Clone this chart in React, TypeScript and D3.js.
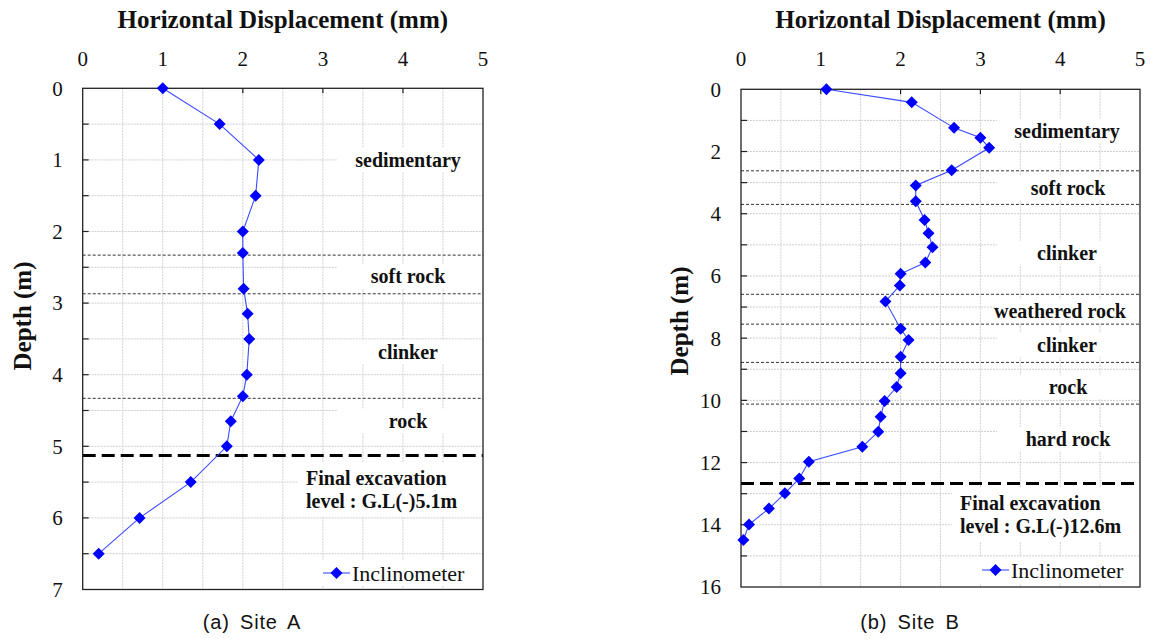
import React from "react";
import * as d3 from "d3";

// ---------- Data ----------
const xTicks = [0, 1, 2, 3, 4, 5];

const depthA = [0, 0.5, 1, 1.5, 2, 2.3, 2.8, 3.15, 3.5, 4, 4.3, 4.65, 5, 5.5, 6, 6.5];
const dispA = [1.0, 1.71, 2.2, 2.16, 2.0, 2.0, 2.01, 2.06, 2.08, 2.05, 2.0, 1.85, 1.8, 1.35, 0.71, 0.2];
const layerBoundsA = [2.33, 2.87, 4.33];
const excavationA = 5.13;
const layerNamesA = ["sedimentary", "soft rock", "clinker", "rock"];
const layerNameDepthsA = [1.0, 2.62, 3.68, 4.65];
const excavationTextA = ["Final excavation", "level : G.L(-)5.1m"];

const depthB = [0, 0.42, 1.24, 1.56, 1.88, 2.6, 3.09, 3.6, 4.2, 4.63, 5.08, 5.57, 5.93, 6.31, 6.82, 7.7, 8.06, 8.6, 9.13, 9.57, 10.02, 10.53, 11.01, 11.49, 11.97, 12.51, 12.99, 13.48, 13.99, 14.49];
const dispB = [1.07, 2.14, 2.67, 3.0, 3.11, 2.64, 2.19, 2.19, 2.3, 2.35, 2.4, 2.31, 2.0, 1.99, 1.81, 2.0, 2.1, 2.0, 2.0, 1.95, 1.8, 1.75, 1.72, 1.52, 0.85, 0.73, 0.55, 0.35, 0.1, 0.03];
const layerBoundsB = [2.62, 3.7, 6.59, 7.55, 8.78, 10.12];
const excavationB = 12.67;
const layerNamesB = ["sedimentary", "soft rock", "clinker", "weathered rock", "clinker", "rock", "hard rock"];
const layerNameDepthsB = [1.34, 3.18, 5.25, 7.12, 8.22, 9.58, 11.24];
const excavationTextB = ["Final excavation", "level : G.L(-)12.6m"];

const xTitle = "Horizontal Displacement (mm)";
const yTitle = "Depth (m)";
const legendLabel = "Inclinometer";
const captions = ["(a) Site A", "(b) Site B"];

// ---------- Styles ----------
const serif = "'Liberation Serif', 'Times New Roman', Times, serif";
const sans = "'Liberation Sans', Arial, sans-serif";
const BLUE = "#0000ff";

const diamond = (cx: number, cy: number, r = 6) =>
  `M${cx},${cy - r}L${cx + r},${cy}L${cx},${cy + r}L${cx - r},${cy}Z`;

type PanelProps = {
  x0: number; x1: number; y0: number; y1: number;
  maxDepth: number; tickStep: number; labelStep: number; gridStep: number;
  depth: number[]; disp: number[];
  bounds: number[]; excavation: number;
  names: string[]; nameDepths: number[]; nameX: number; nameXs?: number[]; boxLeft: number;
  excText: string[]; excX: number; excY: number;
  legX: number; legY: number;
  yTitleX: number; yTitleY: number;
  caption: string; captionX: number; captionY: number;
  topLabelY: number;
};

function Panel(p: PanelProps) {
  const x = d3.scaleLinear().domain([0, 5]).range([p.x0, p.x1]);
  const y = d3.scaleLinear().domain([0, p.maxDepth]).range([p.y0, p.y1]);
  const line = d3
    .line<number>()
    .x((_, i) => x(p.disp[i]))
    .y((d) => y(d));

  const vGrid = d3.range(0.5, 5, 0.5);
  const hGrid = d3.range(p.gridStep, p.maxDepth - 1e-6, p.gridStep);
  const yTicks = d3.range(p.tickStep, p.maxDepth - 1e-6, p.tickStep);
  const yLabels = d3.range(0, p.maxDepth + 1e-6, p.labelStep);
  const cx = (p.x0 + p.x1) / 2;

  return (
    <g>
      {/* grid */}
      {vGrid.map((v) => (
        <line key={"vg" + v} x1={x(v)} x2={x(v)} y1={p.y0} y2={p.y1} stroke="#cfcfcf" strokeWidth={1} strokeDasharray="2,1" />
      ))}
      {hGrid.map((v) => (
        <line key={"hg" + v} x1={p.x0} x2={p.x1} y1={y(v)} y2={y(v)} stroke="#cfcfcf" strokeWidth={1} strokeDasharray="2,1" />
      ))}

      {/* label backgrounds */}
      {p.names.map((n, i) => (
        <rect key={"nb" + i} x={p.boxLeft} y={y(p.nameDepths[i]) - 12} width={p.x1 - p.boxLeft - 1} height={24} fill="#fff" />
      ))}
      <rect x={p.excX - 8} y={p.excY - 15} width={p.x1 - p.excX + 7} height={54} fill="#fff" />
      <rect x={p.legX - 6} y={p.legY - 13} width={p.x1 - p.legX + 4} height={26} fill="#fff" />

      {/* layer boundaries */}
      {p.bounds.map((b, i) => (
        <line key={"lb" + i} x1={p.x0} x2={p.x1} y1={y(b)} y2={y(b)} stroke="#333" strokeWidth={1} strokeDasharray="3,2" />
      ))}
      {/* excavation line */}
      <line x1={p.x0} x2={p.x1} y1={y(p.excavation)} y2={y(p.excavation)} stroke="#000" strokeWidth={3} strokeDasharray="13,6" />

      {/* frame */}
      <rect x={p.x0} y={p.y0} width={p.x1 - p.x0} height={p.y1 - p.y0} fill="none" stroke="#222" strokeWidth={1.3} />
      {/* top ticks */}
      {xTicks.slice(1, -1).map((t) => (
        <line key={"xt" + t} x1={x(t)} x2={x(t)} y1={p.y0} y2={p.y0 + 5} stroke="#222" strokeWidth={1.2} />
      ))}
      {xTicks.map((t) => (
        <text key={"xl" + t} x={x(t)} y={p.topLabelY} textAnchor="middle" fontFamily={serif} fontSize={21} fill="#111">
          {t}
        </text>
      ))}
      {/* left ticks */}
      {yTicks.map((t) => (
        <line key={"yt" + t} x1={p.x0} x2={p.x0 + 6} y1={y(t)} y2={y(t)} stroke="#222" strokeWidth={1.2} />
      ))}
      {yLabels.map((t) => (
        <text key={"yl" + t} x={p.x0 - 20} y={y(t)} dy="0.35em" textAnchor="end" fontFamily={serif} fontSize={21} fill="#111">
          {t}
        </text>
      ))}

      {/* layer names */}
      {p.names.map((n, i) => (
        <text key={"nm" + i} x={p.nameXs ? p.nameXs[i] : p.nameX} y={y(p.nameDepths[i])} dy="0.35em" textAnchor="middle" fontFamily={serif} fontWeight="bold" fontSize={20} fill="#111">
          {n}
        </text>
      ))}
      {p.excText.map((t, i) => (
        <text key={"ex" + i} x={p.excX} y={p.excY + i * 23} dy="0.35em" fontFamily={serif} fontWeight="bold" fontSize={20} fill="#111">
          {t}
        </text>
      ))}

      {/* data */}
      <path d={line(p.depth) || ""} fill="none" stroke="#3a4bff" strokeWidth={1.1} />
      {p.depth.map((d, i) => (
        <path key={"pt" + i} d={diamond(x(p.disp[i]), y(d))} fill={BLUE} />
      ))}

      {/* legend */}
      <line x1={p.legX} x2={p.legX + 27} y1={p.legY} y2={p.legY} stroke="#3a4bff" strokeWidth={1.1} />
      <path d={diamond(p.legX + 13.5, p.legY)} fill={BLUE} />
      <text x={p.legX + 29} y={p.legY} dy="0.35em" fontFamily={serif} fontSize={22} fill="#111">
        {legendLabel}
      </text>

      {/* titles */}
      <text x={cx} y={28} textAnchor="middle" fontFamily={serif} fontWeight="bold" fontSize={25} fill="#111">
        {xTitle}
      </text>
      <text transform={`translate(${p.yTitleX},${p.yTitleY}) rotate(-90)`} textAnchor="middle" dy="0.35em" fontFamily={serif} fontWeight="bold" fontSize={25} fill="#111">
        {yTitle}
      </text>
      <text x={p.captionX} y={p.captionY} dy="0.35em" textAnchor="middle" fontFamily={sans} fontSize={20} letterSpacing={0.8} wordSpacing={4} fill="#111">
        {p.caption}
      </text>
    </g>
  );
}

export default function App() {
  return (
    <svg width={1151} height={639} style={{ position: "absolute", left: 0, top: 0, background: "#fff" }}>
      <rect width={1151} height={639} fill="#fff" />
      <Panel
        x0={82.7} x1={483} y0={88.3} y1={589.5}
        maxDepth={7} tickStep={0.5} labelStep={1} gridStep={0.5}
        depth={depthA} disp={dispA}
        bounds={layerBoundsA} excavation={excavationA}
        names={layerNamesA} nameDepths={layerNameDepthsA} nameX={408} boxLeft={337}
        excText={excavationTextA} excX={306} excY={478}
        legX={323} legY={573}
        yTitleX={22} yTitleY={316}
        caption={captions[0]} captionX={252} captionY={622}
        topLabelY={66}
      />
      <Panel
        x0={741} x1={1140} y0={89.3} y1={587}
        maxDepth={16} tickStep={1} labelStep={2} gridStep={1}
        depth={depthB} disp={dispB}
        bounds={layerBoundsB} excavation={excavationB}
        names={layerNamesB} nameDepths={layerNameDepthsB} nameX={1067}
        nameXs={[1067, 1068, 1067, 1060, 1067, 1068, 1068]} boxLeft={997}
        excText={excavationTextB} excX={960} excY={502.7}
        legX={982} legY={570}
        yTitleX={679} yTitleY={321}
        caption={captions[1]} captionX={910} captionY={622}
        topLabelY={66}
      />
    </svg>
  );
}
